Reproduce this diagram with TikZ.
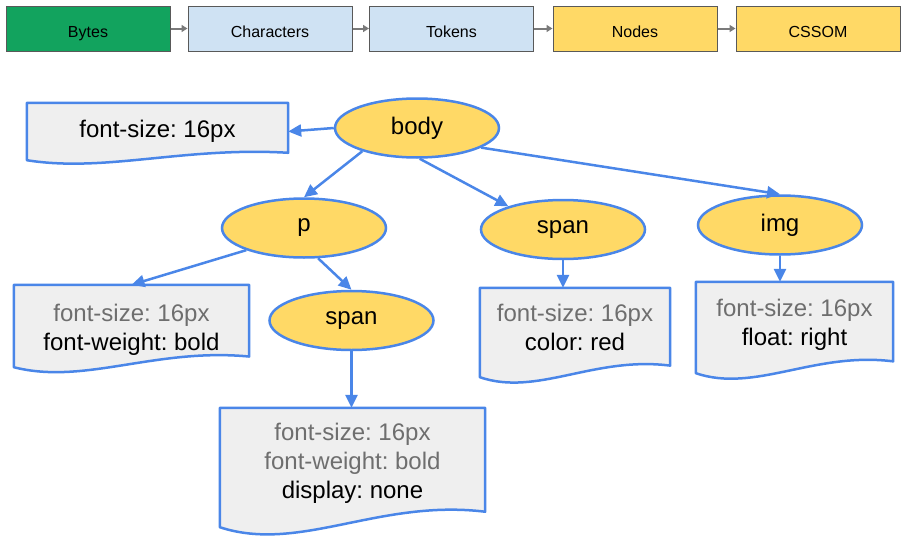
\documentclass[tikz,border=0pt]{standalone}
\usepackage{fontspec}
\setmainfont{Liberation Sans}
\usetikzlibrary{shapes.geometric,arrows.meta,calc,backgrounds}

\definecolor{edgeblue}{HTML}{4A86E8}
\definecolor{nodeyellow}{HTML}{FFD966}
\definecolor{docgray}{HTML}{EFEFEF}
\definecolor{stepblue}{HTML}{CFE2F3}
\definecolor{stepgreen}{HTML}{12A35E}
\definecolor{oldtext}{HTML}{6E6E6E}
\definecolor{stepline}{HTML}{595959}

\tikzset{
  stepbox/.style={rectangle,draw=stepline,line width=1pt,minimum width=164,minimum height=45,
    inner sep=0pt,text height=17pt,text depth=0pt,font={\fontsize{16}{19}\selectfont}},
  steparrow/.style={draw=stepline!80,line width=2pt,-{Triangle[length=6pt,width=7pt]}},
  elem/.style={ellipse,draw=edgeblue,fill=nodeyellow,line width=2.5pt,minimum width=164,
    minimum height=59,inner sep=0pt,font={\fontsize{24}{29}\selectfont}},
  doc/.style={rectangle,inner sep=0pt,align=center,font={\fontsize{24}{29}\selectfont}},
  docline/.style={draw=edgeblue,fill=docgray,line width=2.5pt,line join=round},
  edge/.style={draw=edgeblue,line width=2.5pt,-{Triangle[length=13pt,width=12pt]}}
}

\begin{document}
\frenchspacing
\begin{tikzpicture}[x=1pt,y=-1pt]
  \useasboundingbox (0,0) rectangle (910,546);

  % pipeline
  \node[stepbox,fill=stepgreen] (bytes) at (88,28.5) {Bytes};
  \node[stepbox,fill=stepblue] (chars) at (270,28.5) {Characters};
  \node[stepbox,fill=stepblue] (tokens) at (451.5,28.5) {Tokens};
  \node[stepbox,fill=nodeyellow] (nodes) at (635,28.5) {Nodes};
  \node[stepbox,fill=nodeyellow] (cssom) at (818,28.5) {CSSOM};

  \foreach \from/\to in {bytes/chars,chars/tokens,tokens/nodes,nodes/cssom}
    \draw[steparrow] (\from) -- (\to);

  % tree
  \node[elem] (body) at (417,128) {body};
  \node[elem] (p) at (304,228) {p};
  \node[elem] (spanm) at (563,229.5) {span};
  \node[elem] (img) at (780,225) {img};
  \node[elem] (spanb) at (351.5,320.5) {span};

  % computed styles
  \node[doc,minimum width=261,minimum height=57] (dbody) at (157.5,131.5) {font-size: 16px};
  \node[doc,minimum width=235,minimum height=90] (dp) at (131.5,330)
    {\textcolor{oldtext}{font-size: 16px}\\font-weight: bold};
  \node[doc,minimum width=190,minimum height=79] (dspanm) at (575,327.5)
    {\textcolor{oldtext}{font-size: 16px}\\color: red};
  \node[doc,minimum width=197,minimum height=86] (dimg) at (794.5,325)
    {\textcolor{oldtext}{font-size: 16px}\\float: right};
  \node[doc,minimum width=265,minimum height=111] (dspanb) at (352.5,463.5)
    {\textcolor{oldtext}{font-size: 16px}\\\textcolor{oldtext}{font-weight: bold}\\display: none};

  % wavy outlines: node / height of the sheet / shift of its lower edge
  \begin{scope}[on background layer]
    \foreach \n/\h/\e in {dbody/57/0,dp/82/-8,dspanm/89/10,dimg/91/5,dspanb/119/8}
      \path[docline] (\n.north west) -- (\n.north east) -- ($(\n.south east)+(0,{\e-0.13*\h})$)
        .. controls ($(\n.south west)!0.6!(\n.south east)+(0,{\e-0.24*\h})$)
        and ($(\n.south west)!0.3!(\n.south east)+(0,{\e+0.22*\h})$) .. ($(\n.south west)+(0,\e)$) -- cycle;
  \end{scope}

  \draw[edge] (body.west) -- (dbody.east);
  \draw[edge] (body.203) -- (p.north);
  \draw[edge] (body.-85) -- (spanm.157);
  \draw[edge] (body.-17) -- (img.north);
  \draw[edge] (p.201) -- (dp.north);
  \draw[edge] (p.-65) -- (spanb.north);
  \foreach \from/\to in {spanm/dspanm,img/dimg,spanb/dspanb}
    \draw[edge] (\from.south) -- (\from.south |- \to.north);

\end{tikzpicture}
\end{document}
